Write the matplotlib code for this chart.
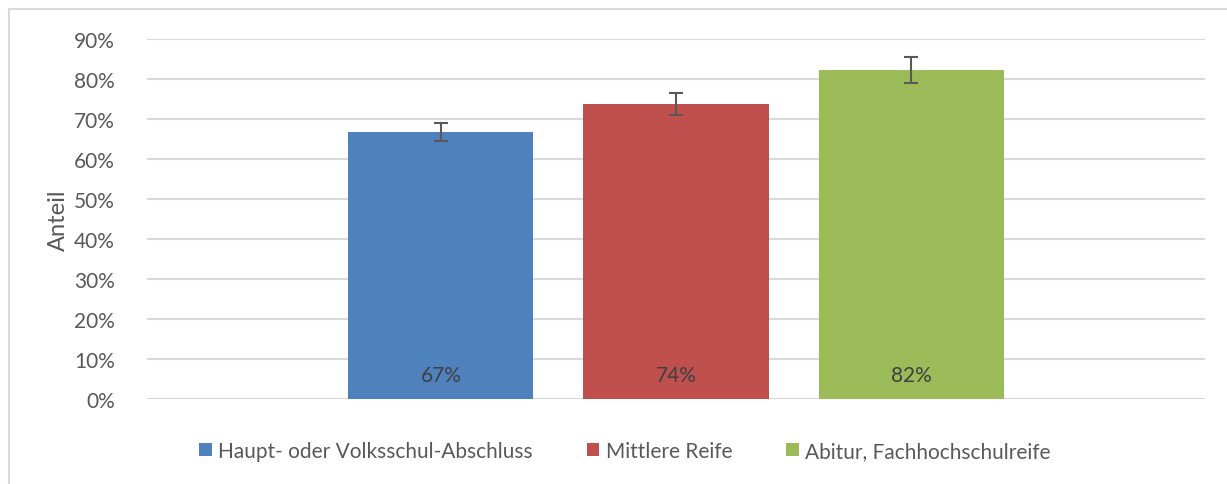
import matplotlib
matplotlib.use("Agg")
import matplotlib.pyplot as plt
from matplotlib.patches import Rectangle
from matplotlib.ticker import FuncFormatter

plt.rcParams['font.family'] = ['Lato', 'DejaVu Sans']

categories = ["Haupt- oder Volksschul-Abschluss", "Mittlere Reife", "Abitur, Fachhochschulreife"]
values = [0.6675, 0.7375, 0.8225]
errors = [0.023, 0.0275, 0.033]
labels = ["67%", "74%", "82%"]
colors = ["#4F81BD", "#C0504D", "#9BBB59"]
positions = [-1, 0, 1]

fig = plt.figure(figsize=(12.27, 4.85), dpi=100)
ax = fig.add_axes([147/1227, 1-400/485, (1205-147)/1227, 360/485])

# outer chart frame
fig.patches.append(Rectangle((9/1227, -0.5), 2, 1-10/485+0.5, transform=fig.transFigure,
                             fill=False, edgecolor="#D9D9D9", linewidth=1.5))

for p, v, e, c, cat in zip(positions, values, errors, colors, categories):
    ax.bar(p, v, width=185/235, color=c, label=cat, zorder=2)
    ax.errorbar(p, v, yerr=e, fmt='none', ecolor="#595959", elinewidth=1.5,
                capsize=5, capthick=1.5, zorder=3)

for p, lab in zip(positions, labels):
    ax.text(p, 0.06, lab, ha='center', va='center', fontsize=15, color="#404040", zorder=4)

ax.set_xlim(-2.25, 2.25)
ax.set_ylim(0, 0.9)
ax.set_yticks([i/10 for i in range(10)])
ax.yaxis.set_major_formatter(FuncFormatter(lambda y, _: f"{round(y*100)}%"))
ax.tick_params(axis='y', length=0, labelsize=15, labelcolor="#595959", pad=23)
ax.set_xticks([])
ax.grid(axis='y', color="#D9D9D9", linewidth=1.5, zorder=0)
ax.set_axisbelow(True)
for s in ax.spines.values():
    s.set_visible(False)
ax.set_ylabel("Anteil", fontsize=17, color="#595959", labelpad=4)

leg = fig.legend(loc='center', bbox_to_anchor=(625/1227, 1-452/485), ncol=3, frameon=False,
                 fontsize=15, handlelength=0.6, handleheight=0.6, handletextpad=0.3,
                 columnspacing=2.6)
for t in leg.get_texts():
    t.set_color("#595959")

fig.savefig("out.png", dpi=100)
